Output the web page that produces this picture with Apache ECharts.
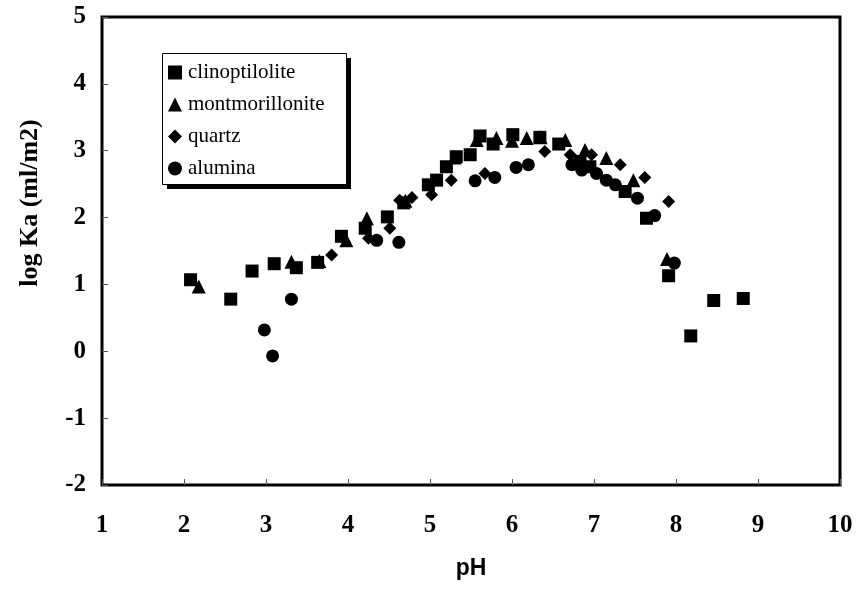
<!DOCTYPE html>
<html>
<head>
<meta charset="utf-8">
<script src="https://cdn.jsdelivr.net/npm/echarts@6/dist/echarts.min.js"></script>
<style>html,body{margin:0;padding:0;background:#fff;}#chart{width:857px;height:594px;}</style>
</head>
<body>
<div id="chart"></div>
<script>
var seriesNames = ['clinoptilolite', 'montmorillonite', 'quartz', 'alumina'];
var xTicks = [1, 2, 3, 4, 5, 6, 7, 8, 9, 10];
var yTicks = [-2, -1, 0, 1, 2, 3, 4, 5];
var clinoptilolite = [[2.08,1.07],[2.57,0.78],[2.83,1.20],[3.10,1.31],[3.37,1.25],[3.63,1.33],[3.92,1.72],[4.21,1.84],[4.48,2.01],[4.68,2.22],[4.98,2.49],[5.08,2.56],[5.20,2.76],[5.32,2.91],[5.49,2.94],[5.61,3.22],[5.77,3.10],[6.01,3.24],[6.34,3.20],[6.57,3.10],[6.83,2.84],[6.95,2.76],[7.38,2.39],[7.64,1.99],[7.91,1.13],[8.18,0.23],[8.46,0.76],[8.82,0.79]];
var montmorillonite = [[2.18,0.97],[3.31,1.34],[3.65,1.35],[3.98,1.66],[4.23,1.99],[4.70,2.25],[5.30,2.90],[5.57,3.16],[5.81,3.19],[6.00,3.15],[6.18,3.19],[6.35,3.20],[6.65,3.16],[6.89,3.01],[7.15,2.89],[7.48,2.56],[7.89,1.38]];
var quartz = [[3.80,1.44],[4.25,1.69],[4.51,1.84],[4.63,2.26],[4.78,2.30],[5.02,2.34],[5.26,2.56],[5.67,2.66],[6.40,2.99],[6.71,2.94],[6.97,2.94],[7.32,2.79],[7.62,2.60],[7.91,2.24]];
var alumina = [[2.98,0.32],[3.08,-0.07],[3.31,0.78],[4.35,1.66],[4.62,1.63],[5.55,2.55],[5.79,2.60],[6.05,2.75],[6.20,2.79],[6.73,2.79],[6.85,2.71],[7.03,2.66],[7.15,2.56],[7.26,2.49],[7.53,2.29],[7.74,2.03],[7.98,1.32]];

var chart = echarts.init(document.getElementById('chart'), null, {renderer: 'canvas'});
var serif = '"Liberation Serif", "Times New Roman", serif';
var sans = '"Liberation Sans", Arial, sans-serif';
var symbols = ['rect', 'triangle', 'diamond', 'circle'];
var sizes = [13, 14, 13, 13];
var datas = [clinoptilolite, montmorillonite, quartz, alumina];
chart.setOption({
  animation: false,
  backgroundColor: '#fff',
  grid: {left: 102, right: 17, top: 17, bottom: 109, show: true, borderColor: '#000', borderWidth: 3, backgroundColor: 'transparent'},
  xAxis: {
    type: 'value', min: xTicks[0], max: xTicks[xTicks.length-1], interval: 1,
    name: 'pH', nameLocation: 'middle', nameGap: 72,
    nameTextStyle: {fontFamily: sans, fontWeight: 'bold', fontSize: 23, color: '#000'},
    axisLine: {show: false, onZero: false},
    axisTick: {show: true, inside: true, length: 6, lineStyle: {color: '#555', width: 1}},
    axisLabel: {fontFamily: serif, fontWeight: 'bold', fontSize: 25, color: '#000', margin: 28},
    splitLine: {show: false}
  },
  yAxis: {
    type: 'value', min: yTicks[0], max: yTicks[yTicks.length-1], interval: 1,
    axisLine: {show: false, onZero: false},
    axisTick: {show: true, inside: true, length: 6, lineStyle: {color: '#555', width: 1}},
    axisLabel: {fontFamily: serif, fontWeight: 'bold', fontSize: 25, color: '#000', margin: 16},
    splitLine: {show: false}
  },
  graphic: [
    {
      type: 'text', x: 30, y: 203, rotation: Math.PI / 2,
      style: {text: 'log Ka (ml/m2)', fontFamily: serif, fontWeight: 'bold', fontSize: 26, fill: '#000', align: 'center', verticalAlign: 'middle'}
    },
    {type: 'rect', z: 5, shape: {x: 167, y: 58, width: 184, height: 131}, style: {fill: '#000'}},
    {type: 'rect', z: 6, shape: {x: 162.5, y: 53.5, width: 184, height: 131}, style: {fill: '#fff', stroke: '#000', lineWidth: 1}}
  ],
  legend: {
    orient: 'vertical', left: 168, top: 62, z: 10,
    data: seriesNames,
    itemWidth: 14, itemHeight: 14, itemGap: 11,
    padding: 0,
    textStyle: {fontFamily: serif, fontSize: 21, color: '#000', padding: [0, 0, 0, 1]},
    selectedMode: false
  },
  series: seriesNames.map(function (n, i) {
    return {
      name: n, type: 'scatter', symbol: symbols[i], symbolSize: sizes[i],
      itemStyle: {color: '#000', opacity: 1}, data: datas[i]
    };
  })
});
</script>
</body>
</html>
